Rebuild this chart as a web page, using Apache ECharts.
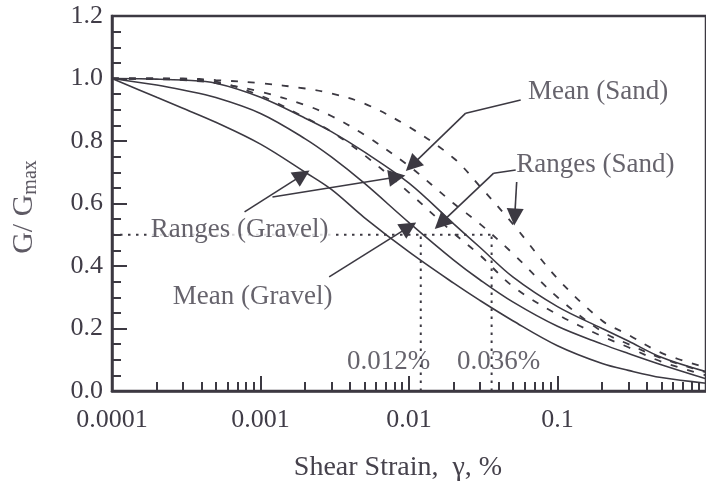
<!DOCTYPE html>
<html>
<head>
<meta charset="utf-8">
<script src="https://cdn.jsdelivr.net/npm/echarts@6/dist/echarts.min.js"></script>
<style>
  html, body { margin: 0; padding: 0; background: #ffffff; }
  #chart { width: 706px; height: 488px; }
</style>
</head>
<body>
<div id="chart"></div>
<script>
// Shear strain (%) at which each modulus-reduction curve is tabulated
const strain = [0.0001, 0.0002, 0.0003, 0.0005, 0.001, 0.002, 0.003, 0.005, 0.01, 0.02, 0.03, 0.05, 0.1, 0.2, 0.3, 0.5, 1];

// G/Gmax, gravel (solid lines)
const gravelLower = [1.0, 0.94, 0.905, 0.86, 0.79, 0.70, 0.645, 0.555, 0.445, 0.345, 0.29, 0.225, 0.145, 0.088, 0.066, 0.043, 0.025];
const gravelMean  = [1.0, 0.979, 0.963, 0.939, 0.888, 0.807, 0.749, 0.665, 0.539, 0.419, 0.356, 0.285, 0.207, 0.15, 0.12, 0.084, 0.039];
const gravelUpper = [1.0, 0.998, 0.995, 0.985, 0.94, 0.873, 0.83, 0.765, 0.665, 0.535, 0.46, 0.365, 0.27, 0.20, 0.16, 0.108, 0.062];

// G/Gmax, sand (dashed lines)
const sandLower = [1.0, 1.0, 0.997, 0.99, 0.945, 0.875, 0.83, 0.755, 0.635, 0.505, 0.435, 0.335, 0.245, 0.175, 0.14, 0.094, 0.05];
const sandMean  = [1.0, 0.998, 0.995, 0.985, 0.958, 0.915, 0.88, 0.82, 0.72, 0.60, 0.535, 0.44, 0.30, 0.19, 0.15, 0.105, 0.06];
const sandUpper = [1.0, 1.0, 1.0, 0.995, 0.985, 0.968, 0.952, 0.92, 0.845, 0.745, 0.655, 0.535, 0.36, 0.225, 0.18, 0.122, 0.075];

// Reference strains where the mean curves reach G/Gmax = 0.5
const refLevel = 0.5;
const refStrainGravel = 0.012;
const refStrainSand = 0.036;

// Axis ticks
const xTickLabels = ['0.0001', '0.001', '0.01', '0.1'];
const xMinorTicks = [0.0002, 0.0003, 0.0004, 0.0005, 0.0006, 0.0007, 0.0008, 0.0009,
                     0.002, 0.003, 0.004, 0.005, 0.006, 0.007, 0.008, 0.009,
                     0.02, 0.03, 0.04, 0.05, 0.06, 0.07, 0.08, 0.09,
                     0.2, 0.3, 0.4, 0.5, 0.6, 0.7, 0.8, 0.9];
const yTickLabels = ['0.0', '0.2', '0.4', '0.6', '0.8', '1.0', '1.2'];

// Leader arrows (strain, G/Gmax), last point is the arrow tip
const meanSandArrow      = [[0.0565, 0.931], [0.0241, 0.889], [0.01047, 0.723]];
const rangesSandArrowA   = [[0.0523, 0.707], [0.0372, 0.697], [0.0164, 0.537]];
const rangesSandArrowB   = [[0.0531, 0.669], [0.0515, 0.557]];
const rangesGravelArrowA = [[0.000781, 0.573], [0.001914, 0.691]];
const rangesGravelArrowB = [[0.001204, 0.621], [0.0083, 0.685]];
const meanGravelArrow    = [[0.0029, 0.365], [0.01, 0.525]];

// Annotation texts and their anchor points (strain, G/Gmax)
const noteTexts  = ['Mean (Sand)', 'Ranges (Sand)', 'Ranges (Gravel)', 'Mean (Gravel)', '0.012%', '0.036%'];
const noteAnchor = [[0.188, 0.956], [0.18, 0.723], [0.000723, 0.515], [0.000884, 0.30], [0.0073, 0.093], [0.0402, 0.093]];

const INK = '#3c3942';
const TEXT = '#403c47';
const SERIF = '"Liberation Serif", "Times New Roman", serif';

function pairs(ys) { return strain.map((x, i) => [x, ys[i]]); }

function curve(name, ys, dashed) {
  return {
    name: name, type: 'line', data: pairs(ys), smooth: 0.35,
    symbol: 'none', silent: true, z: 3,
    lineStyle: dashed
      ? { color: INK, width: 1.8, type: [7, 10] }
      : { color: INK, width: 1.6 }
  };
}

function dotted(points) {
  return {
    type: 'line', data: points, symbol: 'none', silent: true, z: 2,
    lineStyle: { color: INK, width: 2, type: [2.5, 5.5] }
  };
}

// Split each leader into its plain segments and the final segment carrying the head
const arrowPaths = [meanSandArrow, rangesSandArrowA, rangesSandArrowB,
                    rangesGravelArrowA, rangesGravelArrowB, meanGravelArrow];
const leaderSegs = [];
const headSegs = [];
arrowPaths.forEach(function (p) {
  for (let i = 0; i < p.length - 1; i++) {
    (i === p.length - 2 ? headSegs : leaderSegs).push({ coords: [p[i], p[i + 1]] });
  }
});

const chart = echarts.init(document.getElementById('chart'), null, { renderer: 'canvas' });

const option = {
  animation: false,
  backgroundColor: '#ffffff',
  grid: {
    left: 112, right: -3, top: 16, bottom: 97,
    show: true, borderColor: INK, borderWidth: 2.5, backgroundColor: 'transparent'
  },
  xAxis: [
    {
      type: 'log', logBase: 10, min: 0.0001, max: 1,
      axisLine: { show: true, lineStyle: { color: INK, width: 2.5 } },
      axisTick: { show: true, inside: true, length: 15, lineStyle: { color: INK, width: 2 } },
      splitLine: { show: false },
      axisLabel: {
        fontFamily: SERIF, fontSize: 26, color: TEXT, margin: 16,
        showMaxLabel: false,
        formatter: function (v) {
          const k = Math.round(Math.log10(v)) + 4;
          return xTickLabels[k] !== undefined ? xTickLabels[k] : '';
        }
      }
    },
    {
      type: 'log', logBase: 10, min: 0.0001, max: 1, position: 'bottom',
      axisLine: { show: false },
      axisTick: { show: true, inside: true, length: 9, customValues: xMinorTicks,
                  lineStyle: { color: INK, width: 2 } },
      axisLabel: { show: false },
      splitLine: { show: false }
    }
  ],
  yAxis: {
    type: 'value', min: 0, max: 1.2, interval: 0.2,
    axisLine: { show: true, lineStyle: { color: INK, width: 2.5 } },
    axisTick: { show: true, inside: true, length: 15, lineStyle: { color: INK, width: 2 } },
    minorTick: { show: true, splitNumber: 4, length: 9, lineStyle: { color: INK, width: 2 } },
    splitLine: { show: false },
    minorSplitLine: { show: false },
    axisLabel: {
      fontFamily: SERIF, fontSize: 26, color: TEXT, margin: 9,
      formatter: function (v) { return yTickLabels[Math.round(v / 0.2)]; }
    }
  },
  series: [
    dotted([[0.0001, refLevel], [refStrainSand, refLevel]]),
    dotted([[refStrainGravel, 0], [refStrainGravel, refLevel]]),
    dotted([[refStrainSand, 0], [refStrainSand, refLevel]]),
    curve('Ranges (Gravel) lower', gravelLower, false),
    curve('Mean (Gravel)', gravelMean, false),
    curve('Ranges (Gravel) upper', gravelUpper, false),
    curve('Ranges (Sand) lower', sandLower, true),
    curve('Mean (Sand)', sandMean, true),
    curve('Ranges (Sand) upper', sandUpper, true),
    {
      type: 'lines', coordinateSystem: 'cartesian2d', silent: true, z: 4,
      symbol: ['none', 'none'],
      lineStyle: { color: INK, width: 1.6, opacity: 1 },
      data: leaderSegs
    },
    {
      type: 'lines', coordinateSystem: 'cartesian2d', silent: true, z: 4,
      symbol: ['none', 'triangle'], symbolSize: [9, 17],
      symbolOffset: [[0, 0], [0, 8]],
      itemStyle: { color: INK },
      lineStyle: { color: INK, width: 1.6, opacity: 1 },
      data: headSegs
    },
    {
      type: 'scatter', symbolSize: 0, silent: true, z: 5,
      data: noteTexts.map(function (t, i) {
        const item = { name: t, value: noteAnchor[i] };
        if (t === 'Ranges (Gravel)') {
          item.label = { backgroundColor: '#ffffff', padding: [0, 3] };
        }
        return item;
      }),
      label: {
        show: true, position: 'inside', formatter: '{b}',
        fontFamily: SERIF, fontSize: 27, color: TEXT,
        align: 'center', verticalAlign: 'middle'
      },
      labelLayout: { hideOverlap: false }
    }
  ],
  graphic: [
    {
      type: 'text', x: 398, y: 468, silent: true,
      style: { text: 'Shear Strain,  \u03b3, %', font: '28px ' + SERIF, fill: '#46424c',
               align: 'center', verticalAlign: 'middle' }
    },
    {
      type: 'text', x: 24, y: 207, rotation: Math.PI / 2, silent: true,
      style: {
        text: 'G/ G{s|max}', fill: '#5e5a64', align: 'center', verticalAlign: 'middle',
        font: '30px ' + SERIF,
        rich: { s: { fontSize: 20, fontFamily: SERIF, fill: '#5e5a64', verticalAlign: 'bottom', padding: [14, 0, 0, 0] } }
      }
    }
  ]
};

chart.setOption(option);
</script>
</body>
</html>
